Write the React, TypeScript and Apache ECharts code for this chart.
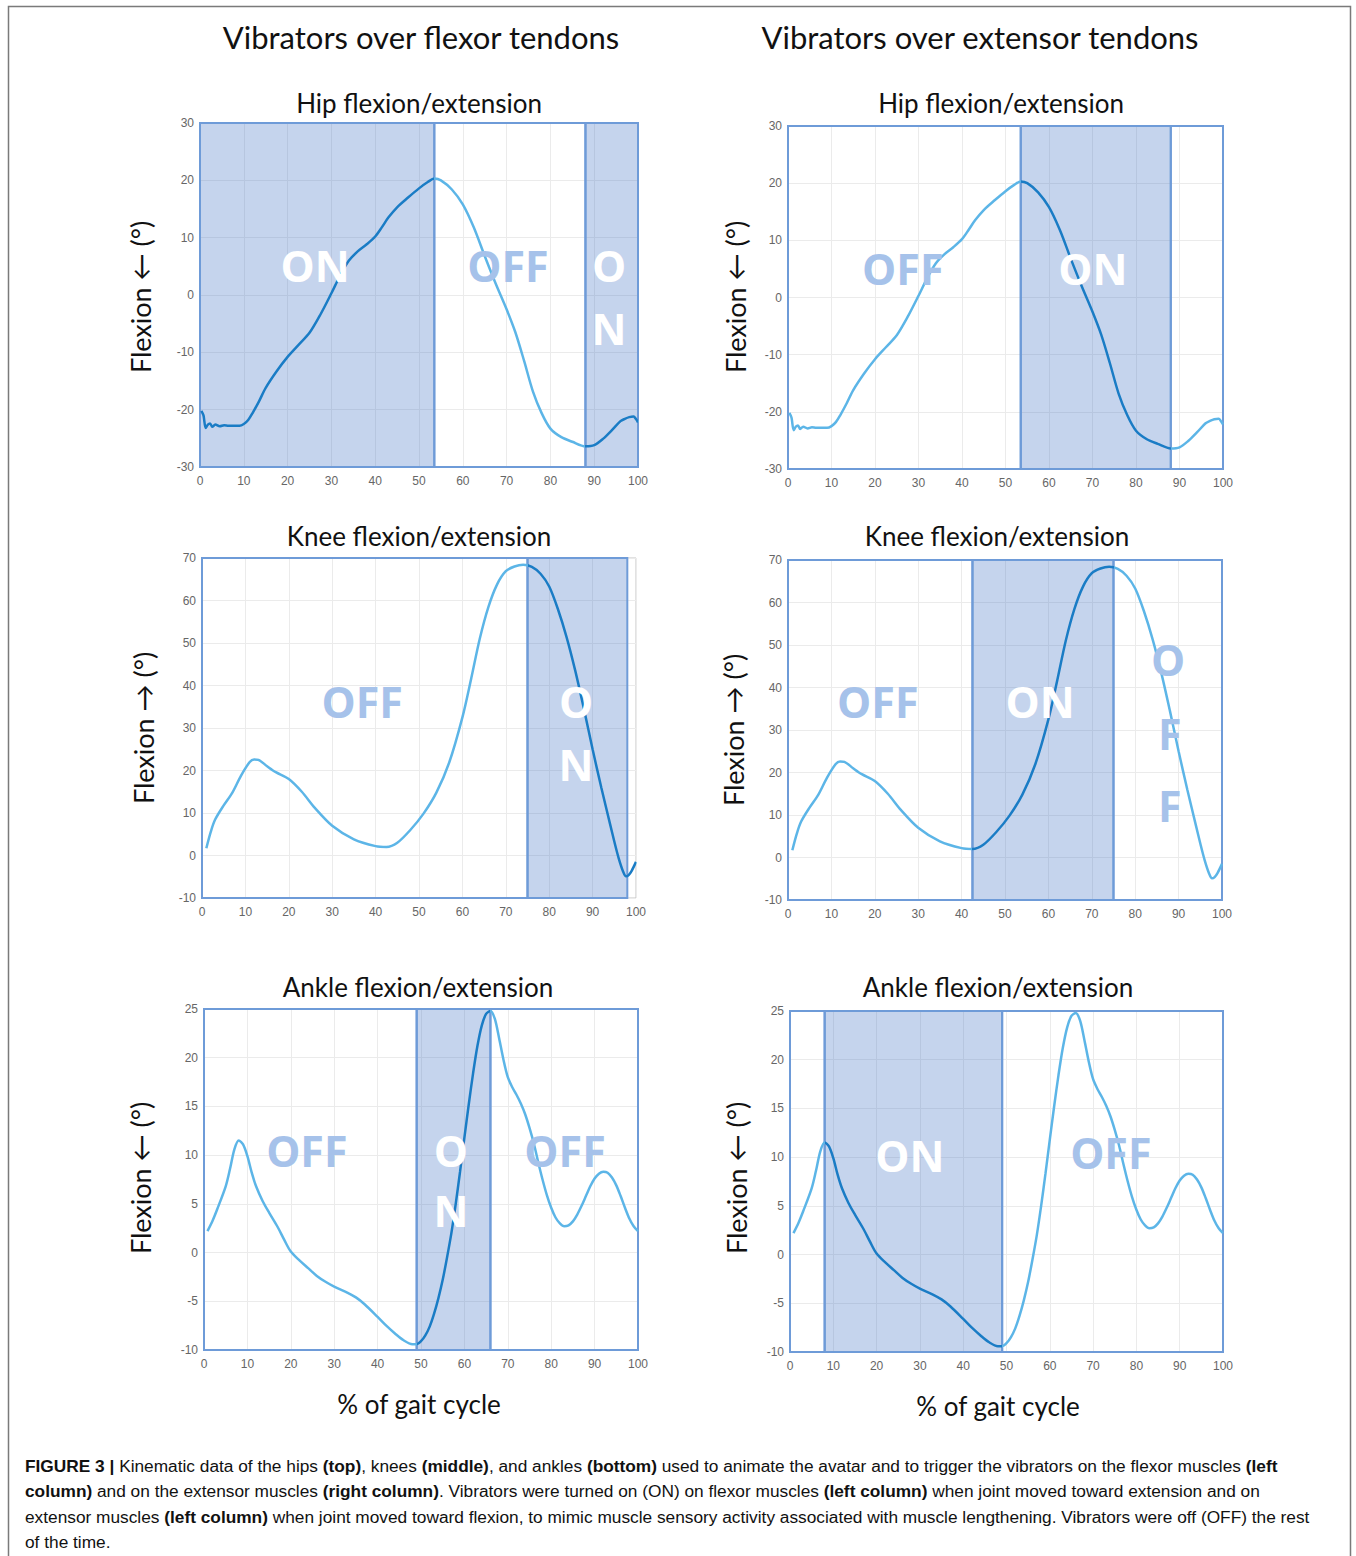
import React, { useEffect, useRef } from "react";
import * as echarts from "echarts";

// ---------- data ----------
const X_TICKS_MAX = 100;

const hipX = [0.3, 0.8, 1.3, 1.8, 2.3, 2.8, 3.5, 4.5, 5.5, 6.5, 8, 9, 10, 11, 12, 13.5, 15, 17.5, 20, 22.5, 25, 27.5, 30, 32, 34, 36, 38, 40, 41.5, 43, 45, 47.5, 50, 52, 53.5, 55, 57.5, 60, 62.5, 65, 67.5, 70, 72, 74, 76, 78, 80, 82.5, 85, 88, 90, 92, 94, 96, 97, 98, 99, 99.5, 100];
const hipY = [-20.2, -21.0, -23.2, -22.6, -22.4, -23.0, -22.6, -22.9, -22.7, -22.8, -22.8, -22.8, -22.5, -21.8, -20.6, -18.5, -16.2, -13.3, -10.8, -8.7, -6.6, -3.4, 0.3, 3.4, 6.0, 7.6, 8.8, 10.2, 11.8, 13.5, 15.3, 17.0, 18.6, 19.7, 20.3, 20.0, 18.4, 15.8, 11.8, 6.8, 2.0, -2.5, -6.5, -11.5, -16.8, -20.6, -23.3, -24.8, -25.6, -26.4, -26.2, -25.1, -23.6, -22.0, -21.6, -21.3, -21.2, -21.6, -22.2];

const kneeX = [1, 2, 3, 5, 7, 9, 11, 12, 13, 15, 17, 20, 23, 26, 30, 35, 40, 42.5, 45, 48, 51, 54, 57, 60, 62, 64, 66, 68, 70, 72, 74, 76, 78, 80, 82, 84, 86, 88, 90, 92, 94, 95, 96, 97, 97.7, 98.3, 99, 100];
const kneeY = [1.7, 5.5, 8.4, 11.8, 14.8, 18.8, 22.0, 22.6, 22.5, 21.0, 19.6, 18.0, 15.0, 11.2, 7.0, 3.8, 2.2, 2.0, 3.0, 6.0, 9.8, 14.8, 22.0, 32.5, 41.5, 51.0, 58.5, 63.8, 66.9, 68.0, 68.4, 67.9, 66.3, 63.3, 58.0, 51.4, 43.5, 34.5, 25.0, 16.0, 7.5, 3.3, -0.6, -3.7, -4.9, -4.6, -3.6, -1.5];

const ankleX = [0.8, 2, 3, 5, 6, 7, 8, 9, 10, 11, 12, 13.5, 15, 17, 18.5, 20, 22, 24, 26, 28, 30, 33, 35, 37, 40, 42, 44, 46, 48, 49, 50, 51, 52, 53, 54, 55, 56, 57, 58, 59, 60, 61, 62, 63, 64, 65, 66, 67, 68, 69, 70, 71, 72, 73, 74, 75, 76, 77, 78, 79, 80, 81, 82, 83, 84, 85, 86, 87, 88, 89, 90, 91, 92, 93, 94, 95, 96, 97, 98, 99, 100];
const ankleY = [2.2, 3.3, 4.4, 6.8, 8.6, 10.6, 11.5, 11.1, 9.9, 8.2, 6.8, 5.3, 4.1, 2.6, 1.3, 0.1, -0.8, -1.6, -2.4, -3.0, -3.5, -4.1, -4.6, -5.3, -6.6, -7.5, -8.3, -9.0, -9.4, -9.4, -9.1, -8.5, -7.6, -6.3, -4.7, -2.8, -0.5, 2.0, 5.0, 8.3, 11.8, 15.2, 18.4, 21.2, 23.3, 24.5, 24.8, 24.0, 22.0, 19.8, 18.0, 17.0, 16.2, 15.3, 14.2, 12.8, 11.2, 9.3, 7.5, 5.9, 4.6, 3.6, 3.0, 2.7, 2.8, 3.2, 3.9, 4.8, 5.8, 6.8, 7.6, 8.1, 8.3, 8.2, 7.7, 6.9, 5.8, 4.6, 3.5, 2.7, 2.2];

// regions: [from, to, on(1)/off(0)]
const hipFlexorRegions = [[0, 53.5, 1], [53.5, 88, 0], [88, 100, 1]];
const hipExtensorRegions = [[0, 53.5, 0], [53.5, 88, 1], [88, 100, 0]];
const kneeFlexorRegions = [[0, 75, 0], [75, 98, 1]];
const kneeExtensorRegions = [[0, 42.5, 0], [42.5, 75, 1], [75, 100, 0]];
const ankleFlexorRegions = [[0, 49, 0], [49, 66, 1], [66, 100, 0]];
const ankleExtensorRegions = [[0, 8, 0], [8, 49, 1], [49, 100, 0]];

// ON/OFF labels: [text, x, y]
const hipFlexorLabels = [["ON", 26.3, 5.1], ["OFF", 70.3, 5.1], ["O", 93.4, 5.1], ["N", 93.4, -5.9]];
const hipExtensorLabels = [["OFF", 26.4, 5.0], ["ON", 70.1, 5.0]];
const kneeFlexorLabels = [["OFF", 36.9, 36.2], ["O", 86.2, 36.2], ["N", 86.2, 21.4]];
const kneeExtensorLabels = [["OFF", 20.7, 36.7], ["ON", 58.1, 36.7], ["O", 87.6, 46.6], ["F", 88.0, 29.2], ["F", 88.0, 12.2]];
const ankleFlexorLabels = [["OFF", 23.7, 10.5], ["O", 56.9, 10.5], ["N", 56.9, 4.3], ["OFF", 83.2, 10.5]];
const ankleExtensorLabels = [["ON", 27.7, 10.2], ["OFF", 74.1, 10.5]];

const colTitles = ["Vibrators over flexor tendons", "Vibrators over extensor tendons"];
const panelTitles = ["Hip flexion/extension", "Knee flexion/extension", "Ankle flexion/extension"];
const yAxisNames = ["Flexion \u2190 (\u00b0)", "Flexion \u2192 (\u00b0)", "Flexion \u2190 (\u00b0)"];
const xAxisName = "% of gait cycle";

// ---------- styles ----------
const FILL = "rgba(78,124,200,0.33)";
const BORDER = "#6e9bd8";
const ON_LINE = "#1a7cc5";
const OFF_LINE = "#5cb5e7";
const OFF_TEXT = "#a6c2ea";
const TITLE_FONT = "Lato, 'Open Sans', sans-serif";
const CAP_FONT = "'Liberation Sans', Arial";
const CAP_SIZE = 17.3;

const panels = [
  { grid: { left: 200, top: 123, width: 438, height: 344 }, min: -30, max: 30, interval: 10, xs: hipX, ys: hipY, regions: hipFlexorRegions, labels: hipFlexorLabels, title: [419, 103], ylab: [140, 297], yname: 0 },
  { grid: { left: 788, top: 126, width: 435, height: 343 }, min: -30, max: 30, interval: 10, xs: hipX, ys: hipY, regions: hipExtensorRegions, labels: hipExtensorLabels, title: [1001, 103], ylab: [735, 297], yname: 0 },
  { grid: { left: 202, top: 558, width: 434, height: 340 }, min: -10, max: 70, interval: 10, xs: kneeX, ys: kneeY, regions: kneeFlexorRegions, labels: kneeFlexorLabels, title: [419, 536], ylab: [143, 728], yname: 1 },
  { grid: { left: 788, top: 560, width: 434, height: 340 }, min: -10, max: 70, interval: 10, xs: kneeX, ys: kneeY, regions: kneeExtensorRegions, labels: kneeExtensorLabels, title: [997, 536], ylab: [733, 730], yname: 1 },
  { grid: { left: 204, top: 1009, width: 434, height: 341 }, min: -10, max: 25, interval: 5, xs: ankleX, ys: ankleY, regions: ankleFlexorRegions, labels: ankleFlexorLabels, title: [418, 987], ylab: [140, 1178], yname: 2 },
  { grid: { left: 790, top: 1011, width: 433, height: 341 }, min: -10, max: 25, interval: 5, xs: ankleX, ys: ankleY, regions: ankleExtensorRegions, labels: ankleExtensorLabels, title: [998, 987], ylab: [736, 1178], yname: 2 },
];

function buildOption() {
  const grids: any[] = [];
  const xAxes: any[] = [];
  const yAxes: any[] = [];
  const series: any[] = [];
  const graphic: any[] = [];
  const visualMaps: any[] = [];

  panels.forEach((p, i) => {
    grids.push({ ...p.grid, show: true, borderColor: "#c4c4c4", borderWidth: 1, backgroundColor: "transparent" });
    xAxes.push({
      gridIndex: i, type: "value", min: 0, max: X_TICKS_MAX, interval: 10,
      axisLine: { show: false }, axisTick: { show: false },
      splitLine: { show: true, lineStyle: { color: "#ebebeb", width: 1 } },
      axisLabel: { color: "#666666", fontSize: 12, fontFamily: CAP_FONT, margin: 8 },
    });
    yAxes.push({
      gridIndex: i, type: "value", min: p.min, max: p.max, interval: p.interval,
      axisLine: { show: false }, axisTick: { show: false },
      splitLine: { show: true, lineStyle: { color: "#ebebeb", width: 1 } },
      axisLabel: { color: "#666666", fontSize: 12, fontFamily: CAP_FONT, margin: 6 },
    });
    const yMin = p.min, yMax = p.max;
    // shaded regions
    series.push({
      type: "custom", xAxisIndex: i, yAxisIndex: i, silent: true, z: 1,
      data: p.regions,
      encode: { x: [0, 1] },
      renderItem: (params: any, api: any) => {
        const a = api.value(0), b = api.value(1), on = api.value(2);
        const p0 = api.coord([a, yMax]);
        const p1 = api.coord([b, yMin]);
        return {
          type: "rect",
          shape: { x: p0[0], y: p0[1], width: p1[0] - p0[0], height: p1[1] - p0[1] },
          style: { fill: on ? FILL : "rgba(0,0,0,0)", stroke: BORDER, lineWidth: 2 },
        };
      },
    });
    // curve (coloured by region through a piecewise visualMap on x)
    const lineIndex = series.length;
    series.push({
      type: "line", xAxisIndex: i, yAxisIndex: i,
      data: p.xs.map((x, k) => [x, p.ys[k]]),
      showSymbol: false, symbol: "none", smooth: 0.3, z: 3, silent: true,
      lineStyle: { width: 2.5 },
    });
    visualMaps.push({
      type: "piecewise", show: false, dimension: 0, seriesIndex: lineIndex,
      pieces: p.regions.map((r, k) =>
        k === p.regions.length - 1
          ? { gte: r[0], lte: 100, color: r[2] ? ON_LINE : OFF_LINE }
          : { gte: r[0], lt: r[1], color: r[2] ? ON_LINE : OFF_LINE }
      ),
      outOfRange: { color: OFF_LINE },
    });
    // ON/OFF labels
    const labs = p.labels;
    const regs = p.regions;
    series.push({
      type: "custom", xAxisIndex: i, yAxisIndex: i, silent: true, z: 4,
      data: labs.map((l) => [l[1], l[2]]),
      renderItem: (params: any, api: any) => {
        const l = labs[params.dataIndex];
        const pt = api.coord([api.value(0), api.value(1)]);
        const reg = regs.find((r) => (l[1] as number) >= r[0] && (l[1] as number) <= r[1]);
        const on = reg ? reg[2] : 0;
        return {
          type: "text", x: pt[0], y: pt[1],
          style: {
            text: l[0], fill: on ? "#ffffff" : OFF_TEXT,
            fontSize: 43, fontWeight: "bold", fontFamily: "'Open Sans', sans-serif",
            align: "center", verticalAlign: "middle", textAlign: "center", textVerticalAlign: "middle",
          },
        };
      },
    });

    // panel title
    graphic.push({
      type: "text", x: p.title[0], y: p.title[1], silent: true,
      style: { text: panelTitles[Math.floor(i / 2)], fill: "#111", fontSize: 26, fontFamily: TITLE_FONT,
        align: "center", verticalAlign: "middle", textAlign: "center", textVerticalAlign: "middle" },
    });
    // y axis name
    graphic.push({
      type: "text", x: p.ylab[0], y: p.ylab[1], rotation: Math.PI / 2, silent: true,
      style: { text: yAxisNames[p.yname], fill: "#111", fontSize: 27, fontFamily: "Lato, 'DejaVu Sans', sans-serif",
        align: "center", verticalAlign: "middle", textAlign: "center", textVerticalAlign: "middle" },
    });
  });

  // column titles
  [[421, 37], [980, 37]].forEach((pos, k) => {
    graphic.push({
      type: "text", x: pos[0], y: pos[1], silent: true,
      style: { text: colTitles[k], fill: "#111", fontSize: 31, fontFamily: TITLE_FONT,
        align: "center", verticalAlign: "middle", textAlign: "center", textVerticalAlign: "middle" },
    });
  });
  // x axis names
  [[419, 1404], [998, 1406]].forEach((pos) => {
    graphic.push({
      type: "text", x: pos[0], y: pos[1], silent: true,
      style: { text: xAxisName, fill: "#111", fontSize: 26, fontFamily: TITLE_FONT,
        align: "center", verticalAlign: "middle", textAlign: "center", textVerticalAlign: "middle" },
    });
  });

  // outer frame
  graphic.push({
    type: "rect", silent: true, z: -10,
    shape: { x: 8.5, y: 6.5, width: 1342, height: 1570 },
    style: { fill: "none", stroke: "#7a7a7a", lineWidth: 1.5 },
  });

  // caption
  const cap =
    "{b|FIGURE 3 |}{n| Kinematic data of the hips }{b|(top)}{n|, knees }{b|(middle)}{n|, and ankles }{b|(bottom)}{n| used to animate the avatar and to trigger the vibrators on the flexor muscles }{b|(left}\n" +
    "{b|column)}{n| and on the extensor muscles }{b|(right column)}{n|. Vibrators were turned on (ON) on flexor muscles }{b|(left column)}{n| when joint moved toward extension and on}\n" +
    "{n|extensor muscles }{b|(left column)}{n| when joint moved toward flexion, to mimic muscle sensory activity associated with muscle lengthening. Vibrators were off (OFF) the rest}\n" +
    "{n|of the time.}";
  graphic.push({
    type: "text", x: 25, y: 1453, silent: true,
    style: {
      text: cap, fill: "#111", fontSize: CAP_SIZE, fontFamily: CAP_FONT, lineHeight: 25.5,
      align: "left", verticalAlign: "top", textAlign: "left", textVerticalAlign: "top",
      rich: {
        b: { fontSize: CAP_SIZE, fontWeight: "bold", fontFamily: CAP_FONT, fill: "#111", color: "#111", lineHeight: 25.5 },
        n: { fontSize: CAP_SIZE, fontFamily: CAP_FONT, fill: "#111", color: "#111", lineHeight: 25.5 },
      },
    },
  });

  return {
    animation: false,
    backgroundColor: "#ffffff",
    grid: grids,
    xAxis: xAxes,
    yAxis: yAxes,
    visualMap: visualMaps,
    series,
    graphic,
  };
}

export default function App() {
  const ref = useRef<HTMLDivElement>(null);
  useEffect(() => {
    document.body.style.margin = "0";
    if (!ref.current) return;
    const chart = echarts.init(ref.current, null, { renderer: "svg" });
    chart.setOption(buildOption() as any);
    return () => chart.dispose();
  }, []);
  return <div ref={ref} style={{ width: 1356, height: 1556 }} />;
}
